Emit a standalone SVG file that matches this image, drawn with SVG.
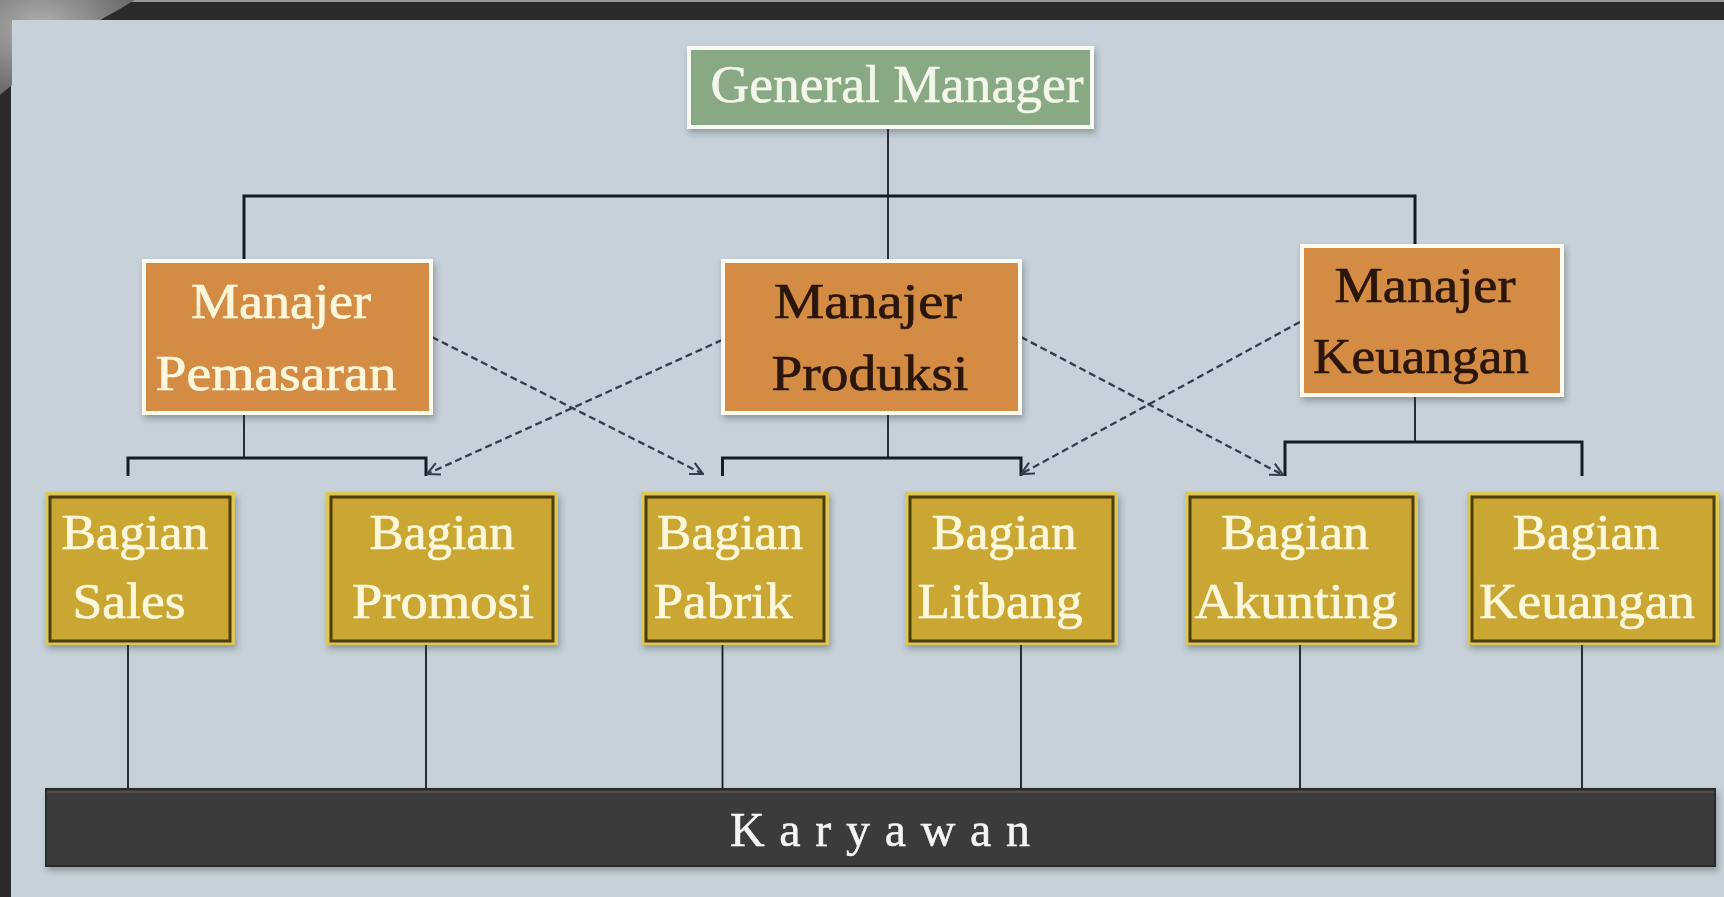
<svg xmlns="http://www.w3.org/2000/svg" width="1724" height="897" viewBox="0 0 1724 897">
<style>
.serif{font-family:"Liberation Serif","Times New Roman",serif;}
.lt{fill:#fdf7dc;stroke:#fdf7dc;stroke-width:0.7;}
.dk{fill:#2a1608;stroke:#2a1608;stroke-width:0.7;}
.conn{stroke:#161c24;fill:none;}
.thin{stroke-width:1.8;}
.thick{stroke-width:3;}
.dash{stroke:#333d4b;stroke-width:2.3;stroke-dasharray:7 4;fill:none;}
.orange{fill:#d48c44;stroke:#fffaf0;stroke-width:4;}
.gold{fill:#c9a732;stroke:#4f3d0d;stroke-width:3;}
.glow{fill:#dcc656;}
</style>
<defs>
<filter id="sh" x="-10%" y="-10%" width="125%" height="130%">
<feDropShadow dx="2" dy="4" stdDeviation="3" flood-color="#2a3038" flood-opacity="0.35"/>
</filter>
<radialGradient id="marble" cx="30%" cy="30%" r="80%">
<stop offset="0" stop-color="#b0b0ae"/>
<stop offset="0.5" stop-color="#8a8a88"/>
<stop offset="1" stop-color="#626260"/>
</radialGradient>
<marker id="arr" viewBox="0 0 12 12" refX="11" refY="6" markerWidth="15" markerHeight="15" markerUnits="userSpaceOnUse" orient="auto">
<path d="M1,1 L11,6 L1,11" fill="none" stroke="#333d4b" stroke-width="1.7"/>
</marker>
</defs>

<!-- frame and background -->
<rect x="0" y="0" width="1724" height="897" fill="#2b2b2b"/>
<rect x="0" y="0" width="1724" height="2" fill="#9a9a9a"/>
<rect x="11" y="20" width="1713" height="877" fill="#c6d1d9"/>
<polygon points="0,0 135,0 118,10 100,20 12,20 12,85 0,95" fill="url(#marble)"/>

<!-- connectors -->
<g id="connectors">
<line class="conn thin" x1="888" y1="128" x2="888" y2="259"/>
<polyline class="conn thick" points="244,259 244,196 1415,196 1415,258"/>
<line class="conn thin" x1="244" y1="196" x2="244" y2="259"/>
<line class="conn thin" x1="1415" y1="196" x2="1415" y2="260"/>

<line class="conn thin" x1="244" y1="415" x2="244" y2="458"/>
<polyline class="conn thick" points="128,476 128,458 426,458 426,476"/>
<line class="conn thin" x1="888" y1="415" x2="888" y2="458"/>
<polyline class="conn thick" points="722.5,476 722.5,458 1021,458 1021,476"/>
<line class="conn thin" x1="1415" y1="397" x2="1415" y2="442"/>
<polyline class="conn thick" points="1285,476 1285,442 1582,442 1582,476"/>

<line class="conn thin" x1="128" y1="641" x2="128" y2="790"/>
<line class="conn thin" x1="426" y1="641" x2="426" y2="790"/>
<line class="conn thin" x1="722.5" y1="641" x2="722.5" y2="790"/>
<line class="conn thin" x1="1021" y1="641" x2="1021" y2="790"/>
<line class="conn thin" x1="1300" y1="641" x2="1300" y2="790"/>
<line class="conn thin" x1="1582" y1="641" x2="1582" y2="790"/>

<line class="dash" x1="432" y1="337" x2="703" y2="474" marker-end="url(#arr)"/>
<line class="dash" x1="722" y1="340" x2="427" y2="474" marker-end="url(#arr)"/>
<line class="dash" x1="1021" y1="337" x2="1283" y2="475" marker-end="url(#arr)"/>
<line class="dash" x1="1300" y1="322" x2="1021" y2="474" marker-end="url(#arr)"/>
</g>

<!-- nodes -->
<g id="general-manager" filter="url(#sh)">
<rect x="689" y="48" width="403" height="79" fill="#88a983" stroke="#f8fbf4" stroke-width="4"/>
<text class="serif" x="897" y="102" font-size="52" text-anchor="middle" textLength="373" lengthAdjust="spacingAndGlyphs" fill="#f2f7ea" stroke="#f2f7ea" stroke-width="0.6">General Manager</text>
</g>

<g id="manajer-pemasaran" filter="url(#sh)">
<rect class="orange" x="144" y="261" width="287" height="152"/>
<text class="serif lt" x="281" y="318" font-size="50" text-anchor="middle" textLength="180" lengthAdjust="spacingAndGlyphs">Manajer</text>
<text class="serif lt" x="276" y="390" font-size="50" text-anchor="middle" textLength="241" lengthAdjust="spacingAndGlyphs">Pemasaran</text>
</g>

<g id="manajer-produksi" filter="url(#sh)">
<rect class="orange" x="723" y="261" width="297" height="152"/>
<text class="serif dk" x="868" y="318" font-size="50" text-anchor="middle" textLength="188" lengthAdjust="spacingAndGlyphs">Manajer</text>
<text class="serif dk" x="870" y="390" font-size="50" text-anchor="middle" textLength="197" lengthAdjust="spacingAndGlyphs">Produksi</text>
</g>

<g id="manajer-keuangan" filter="url(#sh)">
<rect class="orange" x="1302" y="246" width="260" height="149"/>
<text class="serif dk" x="1425" y="302" font-size="50" text-anchor="middle" textLength="181" lengthAdjust="spacingAndGlyphs">Manajer</text>
<text class="serif dk" x="1421" y="373" font-size="50" text-anchor="middle" textLength="216" lengthAdjust="spacingAndGlyphs">Keuangan</text>
</g>

<g id="bagian-sales" filter="url(#sh)">
<rect class="glow" x="45" y="492" width="190" height="153"/>
<rect class="gold" x="50" y="497" width="180" height="144"/>
<text class="serif lt" x="135" y="549" font-size="51" text-anchor="middle" textLength="147" lengthAdjust="spacingAndGlyphs">Bagian</text>
<text class="serif lt" x="129" y="618" font-size="51" text-anchor="middle" textLength="113" lengthAdjust="spacingAndGlyphs">Sales</text>
</g>

<g id="bagian-promosi" filter="url(#sh)">
<rect class="glow" x="326" y="492" width="232" height="153"/>
<rect class="gold" x="331" y="497" width="222" height="144"/>
<text class="serif lt" x="442" y="549" font-size="51" text-anchor="middle" textLength="145" lengthAdjust="spacingAndGlyphs">Bagian</text>
<text class="serif lt" x="443" y="618" font-size="51" text-anchor="middle" textLength="182" lengthAdjust="spacingAndGlyphs">Promosi</text>
</g>

<g id="bagian-pabrik" filter="url(#sh)">
<rect class="glow" x="641" y="492" width="188" height="153"/>
<rect class="gold" x="646" y="497" width="178" height="144"/>
<text class="serif lt" x="730" y="549" font-size="51" text-anchor="middle" textLength="146" lengthAdjust="spacingAndGlyphs">Bagian</text>
<text class="serif lt" x="723" y="618" font-size="51" text-anchor="middle" textLength="139" lengthAdjust="spacingAndGlyphs">Pabrik</text>
</g>

<g id="bagian-litbang" filter="url(#sh)">
<rect class="glow" x="905" y="492" width="213" height="153"/>
<rect class="gold" x="910" y="497" width="203" height="144"/>
<text class="serif lt" x="1004" y="549" font-size="51" text-anchor="middle" textLength="145" lengthAdjust="spacingAndGlyphs">Bagian</text>
<text class="serif lt" x="1000" y="618" font-size="51" text-anchor="middle" textLength="165" lengthAdjust="spacingAndGlyphs">Litbang</text>
</g>

<g id="bagian-akunting" filter="url(#sh)">
<rect class="glow" x="1185" y="492" width="233" height="153"/>
<rect class="gold" x="1190" y="497" width="223" height="144"/>
<text class="serif lt" x="1295" y="549" font-size="51" text-anchor="middle" textLength="148" lengthAdjust="spacingAndGlyphs">Bagian</text>
<text class="serif lt" x="1296" y="618" font-size="51" text-anchor="middle" textLength="203" lengthAdjust="spacingAndGlyphs">Akunting</text>
</g>

<g id="bagian-keuangan" filter="url(#sh)">
<rect class="glow" x="1467" y="492" width="252" height="153"/>
<rect class="gold" x="1472" y="497" width="242" height="144"/>
<text class="serif lt" x="1586" y="549" font-size="51" text-anchor="middle" textLength="147" lengthAdjust="spacingAndGlyphs">Bagian</text>
<text class="serif lt" x="1587" y="618" font-size="51" text-anchor="middle" textLength="216" lengthAdjust="spacingAndGlyphs">Keuangan</text>
</g>

<g id="karyawan" filter="url(#sh)">
<rect x="46" y="789" width="1669" height="77" fill="#3a3a3a" stroke="#2c2c2c" stroke-width="2"/>
<line x1="47" y1="792" x2="1714" y2="792" stroke="#4d4d4d" stroke-width="2"/>
<text class="serif" x="880" y="846" font-size="48" text-anchor="middle" textLength="300" lengthAdjust="spacing" fill="#f4f4f2" stroke="#f4f4f2" stroke-width="0.5">Karyawan</text>
</g>
</svg>
